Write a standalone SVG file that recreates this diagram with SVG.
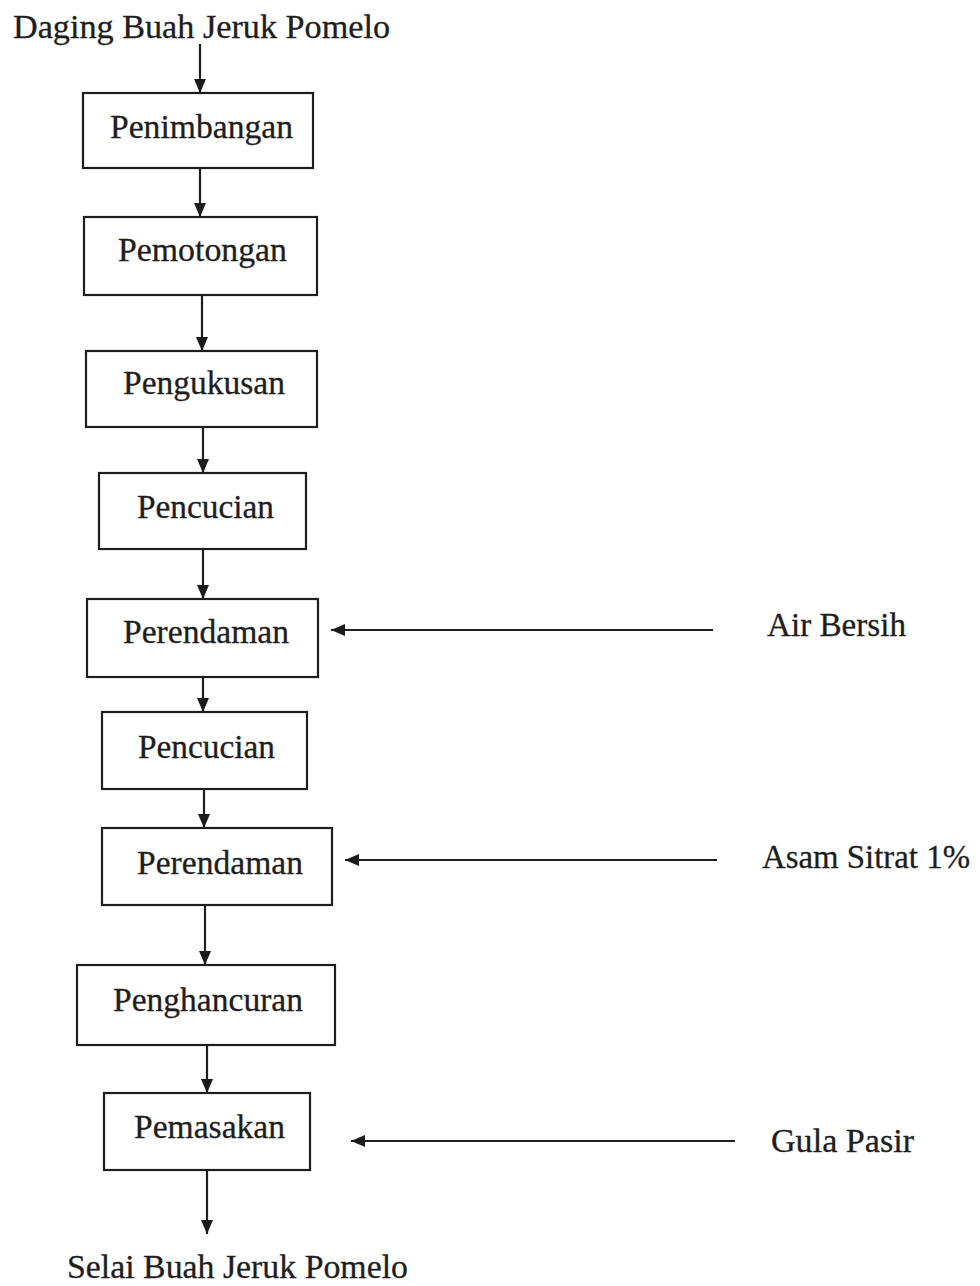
<svg xmlns="http://www.w3.org/2000/svg" width="980" height="1286" viewBox="0 0 980 1286">
<defs>
<marker id="ah" markerUnits="userSpaceOnUse" markerWidth="14" markerHeight="12" refX="14" refY="6" orient="auto">
<path d="M0,0 L14,6 L0,12 z" fill="#1a1a1a"/>
</marker>
<style>
.box{fill:#fff;stroke:#1e1e1e;stroke-width:2.2}
.lbl{font-family:"Liberation Serif","Times New Roman",serif;font-size:33px;fill:#1e1e1e;stroke:#1e1e1e;stroke-width:0.3}
.ext{font-family:"Liberation Serif","Times New Roman",serif;font-size:33px;fill:#1e1e1e;stroke:#1e1e1e;stroke-width:0.3}
.con{stroke:#1e1e1e;stroke-width:2.2;fill:none;marker-end:url(#ah)}
</style>
</defs>
<rect width="980" height="1286" fill="#fff"/>
<g id="connectors">
<line class="con" x1="200" y1="44" x2="200" y2="93"/>
<line class="con" x1="200" y1="168" x2="200" y2="217"/>
<line class="con" x1="202" y1="295" x2="202" y2="351"/>
<line class="con" x1="203" y1="427" x2="203" y2="473"/>
<line class="con" x1="203" y1="549" x2="203" y2="599"/>
<line class="con" x1="203" y1="677" x2="203" y2="712"/>
<line class="con" x1="204" y1="789" x2="204" y2="828"/>
<line class="con" x1="205" y1="905" x2="205" y2="965"/>
<line class="con" x1="207" y1="1045" x2="207" y2="1093"/>
<line class="con" x1="207" y1="1170" x2="207" y2="1234"/>
<line class="con" x1="713" y1="630" x2="331" y2="630"/>
<line class="con" x1="717" y1="860" x2="345" y2="860"/>
<line class="con" x1="735" y1="1141" x2="351" y2="1141"/>
</g>
<g id="start"><text class="ext" x="13" y="38" textLength="377" lengthAdjust="spacingAndGlyphs">Daging Buah Jeruk Pomelo</text></g>
<g id="n1"><rect class="box" x="83" y="93" width="230" height="75"/><text class="lbl" x="110" y="138" textLength="183" lengthAdjust="spacingAndGlyphs">Penimbangan</text></g>
<g id="n2"><rect class="box" x="84" y="217" width="233" height="78"/><text class="lbl" x="118" y="261" textLength="169" lengthAdjust="spacingAndGlyphs">Pemotongan</text></g>
<g id="n3"><rect class="box" x="86" y="351" width="231" height="76"/><text class="lbl" x="123" y="394" textLength="162" lengthAdjust="spacingAndGlyphs">Pengukusan</text></g>
<g id="n4"><rect class="box" x="99" y="473" width="207" height="76"/><text class="lbl" x="137" y="518" textLength="137" lengthAdjust="spacingAndGlyphs">Pencucian</text></g>
<g id="n5"><rect class="box" x="87" y="599" width="231" height="78"/><text class="lbl" x="123" y="643" textLength="166" lengthAdjust="spacingAndGlyphs">Perendaman</text></g>
<g id="n6"><rect class="box" x="102" y="712" width="205" height="77"/><text class="lbl" x="138" y="758" textLength="137" lengthAdjust="spacingAndGlyphs">Pencucian</text></g>
<g id="n7"><rect class="box" x="102" y="828" width="230" height="77"/><text class="lbl" x="137" y="874" textLength="166" lengthAdjust="spacingAndGlyphs">Perendaman</text></g>
<g id="n8"><rect class="box" x="77" y="965" width="258" height="80"/><text class="lbl" x="113" y="1011" textLength="190" lengthAdjust="spacingAndGlyphs">Penghancuran</text></g>
<g id="n9"><rect class="box" x="104" y="1093" width="206" height="77"/><text class="lbl" x="134" y="1138" textLength="151" lengthAdjust="spacingAndGlyphs">Pemasakan</text></g>
<g id="in1"><text class="ext" x="767" y="636" textLength="139" lengthAdjust="spacingAndGlyphs">Air Bersih</text></g>
<g id="in2"><text class="ext" x="762" y="868" textLength="208" lengthAdjust="spacingAndGlyphs">Asam Sitrat 1%</text></g>
<g id="in3"><text class="ext" x="771" y="1152" textLength="143" lengthAdjust="spacingAndGlyphs">Gula Pasir</text></g>
<g id="end"><text class="ext" x="67" y="1278" textLength="341" lengthAdjust="spacingAndGlyphs">Selai Buah Jeruk Pomelo</text></g>
</svg>
